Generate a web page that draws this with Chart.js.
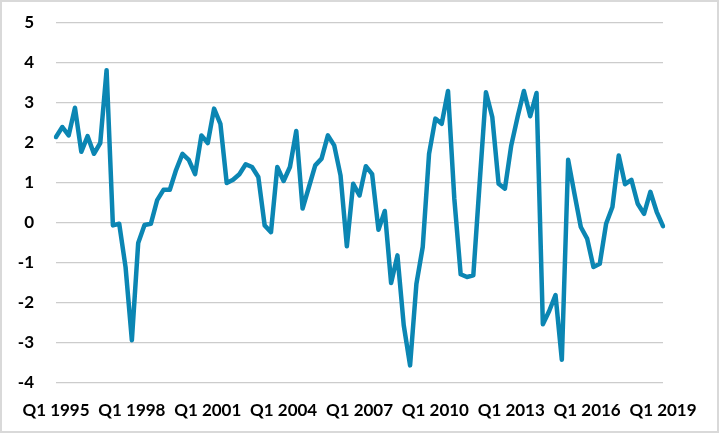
<!DOCTYPE html>
<html>
<head>
<meta charset="utf-8">
<title>Quarterly series</title>
<script src="https://cdn.jsdelivr.net/npm/chart.js"></script>
<style>
  html, body { margin: 0; padding: 0; background: #fff; }
  #wrap { width: 721px; height: 434px; }
</style>
</head>
<body>
<div id="wrap"><canvas id="chart" width="721" height="434"></canvas></div>
<script>
// Quarters run Q1 1995 .. Q1 2019 (97 points)
const firstYear = 1995;
const lastYear = 2019;
const quarters = [];
for (let y = firstYear; y <= lastYear; y++) {
  for (let q = 1; q <= 4; q++) {
    if (y === lastYear && q > 1) break;
    quarters.push('Q' + q + ' ' + y);
  }
}

// Values
const values = [
  2.15, 2.4, 2.19, 2.88, 1.78, 2.17, 1.73, 2.0, 3.82, -0.06,
  -0.02, -1.1, -2.93, -0.5, -0.05, -0.02, 0.57, 0.83, 0.83, 1.33,
  1.73, 1.58, 1.22, 2.19, 2.0, 2.86, 2.48, 1.0, 1.08, 1.22,
  1.47, 1.4, 1.15, -0.06, -0.23, 1.4, 1.05, 1.4, 2.3, 0.36,
  0.9, 1.44, 1.61, 2.19, 1.94, 1.19, -0.58, 0.98, 0.69, 1.42,
  1.22, -0.17, 0.3, -1.5, -0.81, -2.56, -3.56, -1.52, -0.6, 1.73,
  2.61, 2.48, 3.3, 0.6, -1.28, -1.35, -1.31, 1.0, 3.27, 2.65,
  0.98, 0.86, 1.94, 2.65, 3.3, 2.67, 3.25, -2.53, -2.2, -1.8,
  -3.42, 1.58, 0.73, -0.1, -0.39, -1.1, -1.02, -0.02, 0.4, 1.69,
  0.97, 1.08, 0.48, 0.23, 0.78, 0.28, -0.08
];

// y axis range and label step
const yMin = -4;
const yMax = 5;
const yStep = 1;
const labelEvery = 12;

// light grey frame around the whole chart, like the Excel chart area
const frame = {
  id: 'frame',
  beforeDraw(chart) {
    const c = chart.ctx;
    c.save();
    c.fillStyle = '#ffffff';
    c.fillRect(0, 0, chart.width, chart.height);
    c.strokeStyle = '#d9d9d9';
    c.lineWidth = 2;
    c.strokeRect(1, 1, chart.width - 4, chart.height - 3);
    c.restore();
  }
};

const ctx = document.getElementById('chart').getContext('2d');
new Chart(ctx, {
  type: 'line',
  data: {
    labels: quarters,
    datasets: [{
      data: values,
      borderColor: '#0b86b3',
      borderWidth: 4.5,
      borderJoinStyle: 'round',
      borderCapStyle: 'round',
      pointRadius: 0,
      tension: 0,
      fill: false
    }]
  },
  options: {
    responsive: false,
    animation: false,
    devicePixelRatio: 1,
    layout: { padding: { top: 23, right: 58, left: 0, bottom: 0 } },
    plugins: {
      legend: { display: false },
      tooltip: { enabled: false }
    },
    scales: {
      x: {
        offset: false,
        grid: { display: false, drawTicks: false },
        border: { display: false },
        afterFit(scale) {
          scale.height = 51;
          scale.paddingLeft = 0;
          scale.paddingRight = 0;
        },
        ticks: {
          autoSkip: false,
          maxRotation: 0,
          padding: 17,
          color: '#000',
          font: { family: 'Lato', size: 17, weight: 'bold' },
          callback(val, i) {
            return i % labelEvery === 0 ? quarters[i] : '';
          }
        }
      },
      y: {
        min: yMin,
        max: yMax,
        grid: { color: '#cccccc', lineWidth: 1.3, drawTicks: false },
        border: { display: false },
        afterFit(scale) {
          scale.width = 56;
          scale.paddingTop = 0;
          scale.paddingBottom = 0;
        },
        ticks: {
          stepSize: yStep,
          padding: 22,
          color: '#000',
          font: { family: 'Lato', size: 17, weight: 'bold' }
        }
      }
    }
  },
  plugins: [frame]
});
</script>
</body>
</html>
